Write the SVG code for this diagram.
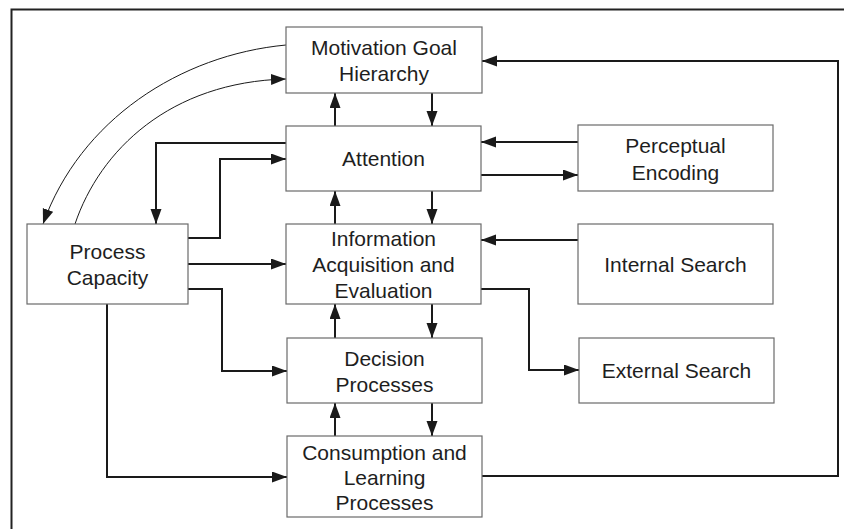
<svg xmlns="http://www.w3.org/2000/svg" width="844" height="529" viewBox="0 0 844 529">
  <defs>
    <marker id="arrow" markerUnits="userSpaceOnUse" markerWidth="16" markerHeight="12" refX="15" refY="5.5" orient="auto">
      <path d="M0,0 L15,5.5 L0,11 z" fill="#1a1a1a"/>
    </marker>
    <style>
      .box { fill: #ffffff; stroke: #6a6a6a; stroke-width: 1.2; }
      .label { font-family: "Liberation Sans", Arial, sans-serif; font-size: 21px; fill: #1e1e1e; text-anchor: middle; }
      .link { fill: none; stroke: #1a1a1a; stroke-width: 2; }
      .curve { fill: none; stroke: #1a1a1a; stroke-width: 1; }
      .frame { fill: none; stroke: #222222; stroke-width: 2; }
    </style>
  </defs>

  <rect width="844" height="529" fill="#ffffff"/>

  <!-- outer frame -->
  <path class="frame" d="M11.5,529 V9.5 H844"/>

  <!-- connectors -->
  <g id="connectors">
    <!-- vertical links between the central stack -->
    <line class="link" x1="335" y1="126" x2="335" y2="93" marker-end="url(#arrow)"/>
    <line class="link" x1="432" y1="93" x2="432" y2="126" marker-end="url(#arrow)"/>
    <line class="link" x1="335" y1="224" x2="335" y2="191" marker-end="url(#arrow)"/>
    <line class="link" x1="432" y1="191" x2="432" y2="224" marker-end="url(#arrow)"/>
    <line class="link" x1="335" y1="338" x2="335" y2="304" marker-end="url(#arrow)"/>
    <line class="link" x1="432" y1="304" x2="432" y2="338" marker-end="url(#arrow)"/>
    <line class="link" x1="335" y1="436" x2="335" y2="403" marker-end="url(#arrow)"/>
    <line class="link" x1="432" y1="403" x2="432" y2="436" marker-end="url(#arrow)"/>

    <!-- right-hand side -->
    <line class="link" x1="578" y1="142" x2="481" y2="142" marker-end="url(#arrow)"/>
    <line class="link" x1="481" y1="175" x2="578" y2="175" marker-end="url(#arrow)"/>
    <line class="link" x1="578" y1="240" x2="481" y2="240" marker-end="url(#arrow)"/>
    <path class="link" d="M481,289 H529 V370 H579" marker-end="url(#arrow)"/>

    <!-- process capacity links -->
    <path class="link" d="M286,143 H156 V224" marker-end="url(#arrow)"/>
    <path class="link" d="M188,238 H220 V159 H286" marker-end="url(#arrow)"/>
    <line class="link" x1="188" y1="264" x2="286" y2="264" marker-end="url(#arrow)"/>
    <path class="link" d="M188,289 H222 V371 H287" marker-end="url(#arrow)"/>
    <path class="link" d="M107,304 V477 H287" marker-end="url(#arrow)"/>

    <!-- feedback from consumption to goals -->
    <path class="link" d="M482,476 H838 V61 H482" marker-end="url(#arrow)"/>

    <!-- curved links between goals and capacity -->
    <path class="curve" d="M286,45 C180,55 80,120 43,224" marker-end="url(#arrow)"/>
    <path class="curve" d="M75,224 C100,150 170,82 286,79" marker-end="url(#arrow)"/>
  </g>

  <g id="motivation">
    <rect class="box" x="286" y="27" width="196" height="66"/>
    <text class="label" x="384" y="55">Motivation Goal</text>
    <text class="label" x="384" y="81">Hierarchy</text>
  </g>

  <g id="attention">
    <rect class="box" x="286" y="126" width="195" height="65"/>
    <text class="label" x="383.5" y="165.5">Attention</text>
  </g>

  <g id="information">
    <rect class="box" x="286" y="224" width="195" height="80"/>
    <text class="label" x="383.5" y="245.5">Information</text>
    <text class="label" x="383.5" y="271.5">Acquisition and</text>
    <text class="label" x="383.5" y="297.5">Evaluation</text>
  </g>

  <g id="decision">
    <rect class="box" x="287" y="338" width="195" height="65"/>
    <text class="label" x="384.5" y="365.5">Decision</text>
    <text class="label" x="384.5" y="391.5">Processes</text>
  </g>

  <g id="consumption">
    <rect class="box" x="287" y="436" width="195" height="81"/>
    <text class="label" x="384.5" y="459.5">Consumption and</text>
    <text class="label" x="384.5" y="484.5">Learning</text>
    <text class="label" x="384.5" y="509.5">Processes</text>
  </g>

  <g id="perceptual">
    <rect class="box" x="578" y="125" width="195" height="66"/>
    <text class="label" x="675.5" y="152.5">Perceptual</text>
    <text class="label" x="675.5" y="179.5">Encoding</text>
  </g>

  <g id="internal">
    <rect class="box" x="578" y="224" width="195" height="80"/>
    <text class="label" x="675.5" y="271.5">Internal Search</text>
  </g>

  <g id="external">
    <rect class="box" x="579" y="338" width="195" height="65"/>
    <text class="label" x="676.5" y="377.5">External Search</text>
  </g>

  <g id="capacity">
    <rect class="box" x="27" y="224" width="161" height="80"/>
    <text class="label" x="107.5" y="258.5">Process</text>
    <text class="label" x="107.5" y="284.5">Capacity</text>
  </g>
</svg>
